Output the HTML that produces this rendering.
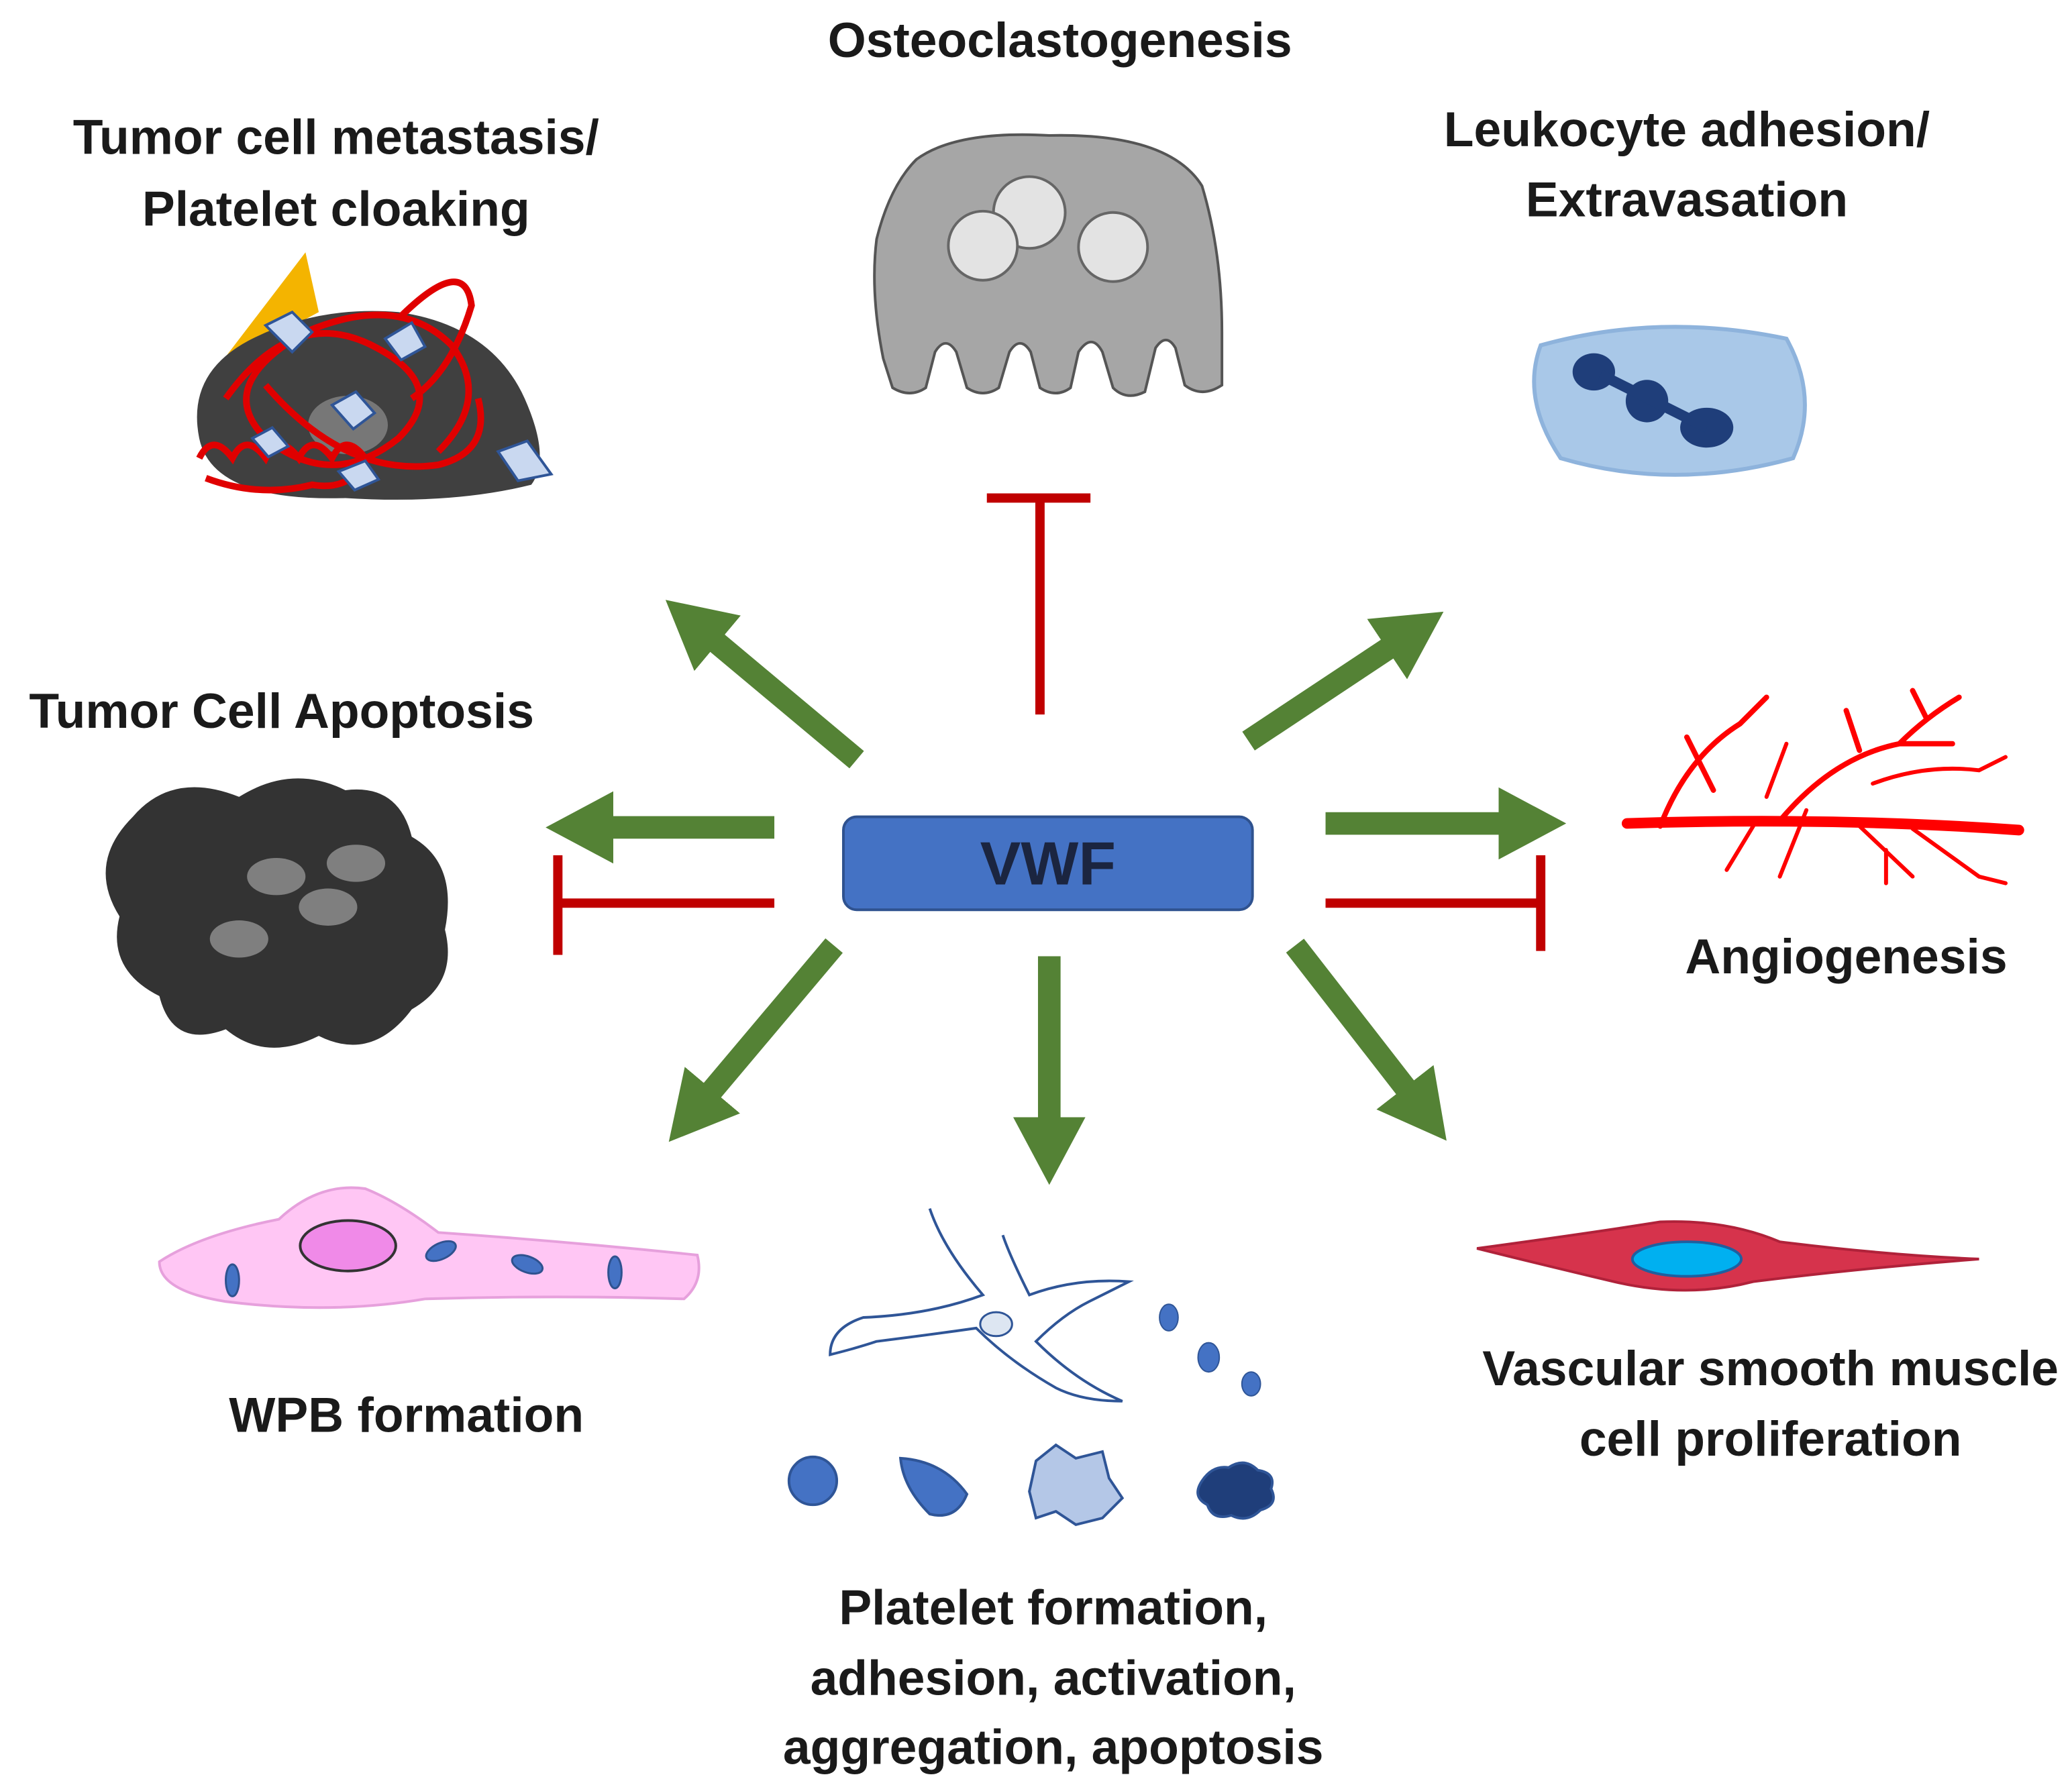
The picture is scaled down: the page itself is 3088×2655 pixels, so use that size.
<!DOCTYPE html>
<html><head><meta charset="utf-8"><style>
html,body{margin:0;padding:0;background:#fff;}
svg{display:block}
text{font-family:"Liberation Sans",sans-serif;font-weight:bold;fill:#1a1a1a;font-size:37px;text-anchor:middle}
</style></head><body>
<svg width="3088" height="2655" viewBox="0 0 1560 1341" preserveAspectRatio="none" xmlns="http://www.w3.org/2000/svg">
<defs>
<marker id="ah" markerWidth="3" markerHeight="3.2" refX="0.4" refY="1.6" orient="auto" markerUnits="strokeWidth">
<path d="M0,0 L3,1.6 L0,3.2 Z" fill="#548235"/></marker>
</defs>
<text x="798" y="43">Osteoclastogenesis</text>
<text x="253" y="116">Tumor cell metastasis/</text>
<text x="253" y="170">Platelet cloaking</text>
<text x="1270" y="110">Leukocyte adhesion/</text>
<text x="1270" y="163">Extravasation</text>
<text x="212" y="548">Tumor Cell Apoptosis</text>
<text x="1390" y="733">Angiogenesis</text>
<text x="306" y="1078">WPB formation</text>
<text x="1333" y="1043">Vascular smooth muscle</text>
<text x="1333" y="1096">cell proliferation</text>
<text x="793" y="1223">Platelet formation,</text>
<text x="793" y="1276">adhesion, activation,</text>
<text x="793" y="1328">aggregation, apoptosis</text>

<rect x="635" y="615" width="308" height="70" rx="10" fill="#4472c4" stroke="#2f528f" stroke-width="2"/>
<text x="789" y="666" style="font-size:46px;fill:#1b2540">VWF</text>

<g stroke="#548235" stroke-width="17" fill="none" marker-end="url(#ah)">
<line x1="645" y1="572" x2="535" y2="480"/>
<line x1="940" y1="558" x2="1050" y2="485"/>
<line x1="583" y1="623" x2="455" y2="623"/>
<line x1="998" y1="620" x2="1135" y2="620"/>
<line x1="628" y1="712" x2="532" y2="826"/>
<line x1="790" y1="720" x2="790" y2="848"/>
<line x1="975" y1="712" x2="1062" y2="824"/>
</g>
<g stroke="#c00000" stroke-width="7" fill="none">
<line x1="783" y1="538" x2="783" y2="375"/><line x1="743" y1="375" x2="821" y2="375"/>
<line x1="583" y1="680" x2="420" y2="680"/><line x1="420" y1="644" x2="420" y2="719"/>
<line x1="998" y1="680" x2="1160" y2="680"/><line x1="1160" y1="644" x2="1160" y2="716"/>
</g>

<path d="M690,120 Q720,98 790,102 Q880,100 905,140 Q920,190 920,250 L920,290 Q905,300 892,290 L885,262 Q878,250 870,262 L862,295 Q848,302 838,292 L830,265 Q822,250 812,265 L806,292 Q795,300 783,292 L776,265 Q768,252 760,265 L752,292 Q740,300 728,292 L720,265 Q712,252 704,265 L697,292 Q685,300 672,292 L665,270 Q655,220 660,180 Q670,140 690,120 Z" fill="#a6a6a6" stroke="#555" stroke-width="2"/>
<g fill="#e3e3e3" stroke="#666" stroke-width="2"><circle cx="775" cy="160" r="27"/><circle cx="740" cy="185" r="26"/><circle cx="838" cy="186" r="26"/></g>

<path d="M165,275 L230,190 L240,235 Z" fill="#f4b400"/>
<path d="M150,330 Q140,280 190,255 Q240,230 300,235 Q370,245 395,300 Q415,345 400,365 Q340,380 260,375 Q160,378 150,330 Z" fill="#404040"/>
<ellipse cx="262" cy="320" rx="30" ry="22" fill="#777"/>
<g fill="none" stroke="#e00000" stroke-width="5">
<path d="M170,300 Q220,230 280,260 Q340,290 300,330 Q250,370 200,330 Q160,290 230,250 Q300,220 340,260 Q370,300 330,340"/>
<path d="M300,240 Q350,190 355,230 Q340,280 310,300"/>
<path d="M150,345 q10,-20 25,0 q10,-20 25,0 q10,-20 25,0 q10,-20 25,0 q10,-20 25,0 q-10,25 -40,20 q-40,10 -80,-5"/>
<path d="M200,290 Q260,360 330,350 Q370,340 360,300"/>
</g>
<g fill="#c9d8f0" stroke="#2f5597" stroke-width="2">
<path d="M200,245 l20,-10 l15,15 l-15,15 z"/><path d="M290,255 l20,-12 l10,18 l-18,10 z"/>
<path d="M250,305 l18,-10 l14,16 l-16,12 z"/><path d="M255,355 l20,-8 l10,14 l-18,8 z"/>
<path d="M375,340 l22,-8 l18,25 l-25,5 z"/><path d="M190,330 l15,-8 l12,14 l-15,8 z"/>
</g>

<path d="M1160,260 Q1250,235 1345,255 Q1370,300 1350,345 Q1260,370 1175,345 Q1145,300 1160,260 Z" fill="#a9c8e8" stroke="#8eb3dc" stroke-width="3"/>
<g fill="#1f3e7a"><ellipse cx="1200" cy="280" rx="16" ry="14"/><ellipse cx="1240" cy="302" rx="16" ry="16"/><ellipse cx="1285" cy="322" rx="20" ry="15"/></g>
<path d="M1205,282 L1285,322" stroke="#1f3e7a" stroke-width="8"/>

<path d="M100,615 Q130,580 180,600 Q220,575 260,595 Q300,590 310,630 Q345,650 335,700 Q345,740 310,760 Q280,800 240,780 Q200,800 170,775 Q130,790 120,750 Q80,730 90,690 Q65,650 100,615 Z" fill="#333"/>
<g fill="#7f7f7f"><ellipse cx="208" cy="660" rx="22" ry="14"/><ellipse cx="268" cy="650" rx="22" ry="14"/><ellipse cx="247" cy="683" rx="22" ry="14"/><ellipse cx="180" cy="707" rx="22" ry="14"/></g>

<g stroke="#ff0000" fill="none" stroke-linecap="round">
<path d="M1225,620 Q1380,615 1520,625" stroke-width="8"/>
<path d="M1250,622 Q1270,570 1310,545 M1290,595 L1270,555 M1310,545 L1330,525" stroke-width="4"/>
<path d="M1340,618 Q1380,570 1430,560 Q1450,540 1475,525 M1400,565 L1390,535 M1430,560 L1470,560 M1450,540 L1440,520" stroke-width="4"/>
<path d="M1330,600 L1345,560 M1360,610 L1340,660 M1400,622 L1440,660 M1440,624 L1490,660 L1510,665 M1320,622 L1300,655 M1420,640 L1420,665" stroke-width="3"/>
<path d="M1410,590 Q1450,575 1490,580 L1510,570" stroke-width="3"/>
</g>

<path d="M120,950 Q150,930 210,918 Q240,890 275,895 Q300,905 330,928 Q430,935 525,945 Q530,965 515,978 Q420,975 320,978 Q250,990 170,980 Q120,972 120,950 Z" fill="#ffc6f4" stroke="#e6a0dc" stroke-width="2"/>
<ellipse cx="262" cy="938" rx="36" ry="19" fill="#f08ae8" stroke="#333" stroke-width="2"/>
<g fill="#4472c4" stroke="#2f528f" stroke-width="1.5"><ellipse cx="175" cy="964" rx="5" ry="12"/><ellipse cx="332" cy="942" rx="12" ry="6" transform="rotate(-25 332 942)"/><ellipse cx="397" cy="952" rx="12" ry="6" transform="rotate(20 397 952)"/><ellipse cx="463" cy="958" rx="5" ry="12"/></g>

<path d="M1112,940 Q1200,928 1250,920 Q1300,918 1340,935 Q1420,945 1490,948 Q1400,955 1320,965 Q1270,978 1215,965 Q1160,952 1112,940 Z" fill="#d6334c" stroke="#b0223a" stroke-width="2"/>
<ellipse cx="1270" cy="948" rx="41" ry="13" fill="#00b0f0" stroke="#1f5f9f" stroke-width="2"/>

<g fill="none" stroke="#2f5597" stroke-width="2">
<path d="M700,910 Q710,940 740,975 Q700,990 650,992 Q625,1000 625,1020 Q645,1015 660,1010 Q700,1005 735,1000 Q760,1025 795,1045 Q815,1055 845,1055 Q810,1040 780,1010 Q800,990 820,980 Q840,970 850,965 Q810,962 775,975 Q760,945 755,930"/>
</g>
<ellipse cx="750" cy="997" rx="12" ry="9" fill="#dde6f2" stroke="#2f5597" stroke-width="1.5"/>
<g fill="#4472c4" stroke="#2f5597"><ellipse cx="880" cy="992" rx="7" ry="10"/><ellipse cx="910" cy="1022" rx="8" ry="11"/><ellipse cx="942" cy="1042" rx="7" ry="9"/></g>
<circle cx="612" cy="1115" r="18" fill="#4472c4" stroke="#2f5597" stroke-width="2"/>
<path d="M678,1098 Q710,1100 728,1125 Q720,1145 700,1140 Q680,1120 678,1098 Z" fill="#4472c4" stroke="#2f5597" stroke-width="2"/>
<path d="M780,1100 l15,-12 l15,10 l20,-5 l5,20 l10,15 l-15,15 l-20,5 l-15,-10 l-15,5 l-5,-20 z" fill="#b4c7e7" stroke="#2f5597" stroke-width="2"/>
<path d="M905,1115 q8,-12 20,-10 q12,-8 22,2 q14,2 10,14 q6,12 -8,16 q-10,10 -22,4 q-14,4 -18,-8 q-12,-6 -4,-18 z" fill="#1f3e7a" stroke="#2f5597" stroke-width="2"/>
</svg>
</body></html>
